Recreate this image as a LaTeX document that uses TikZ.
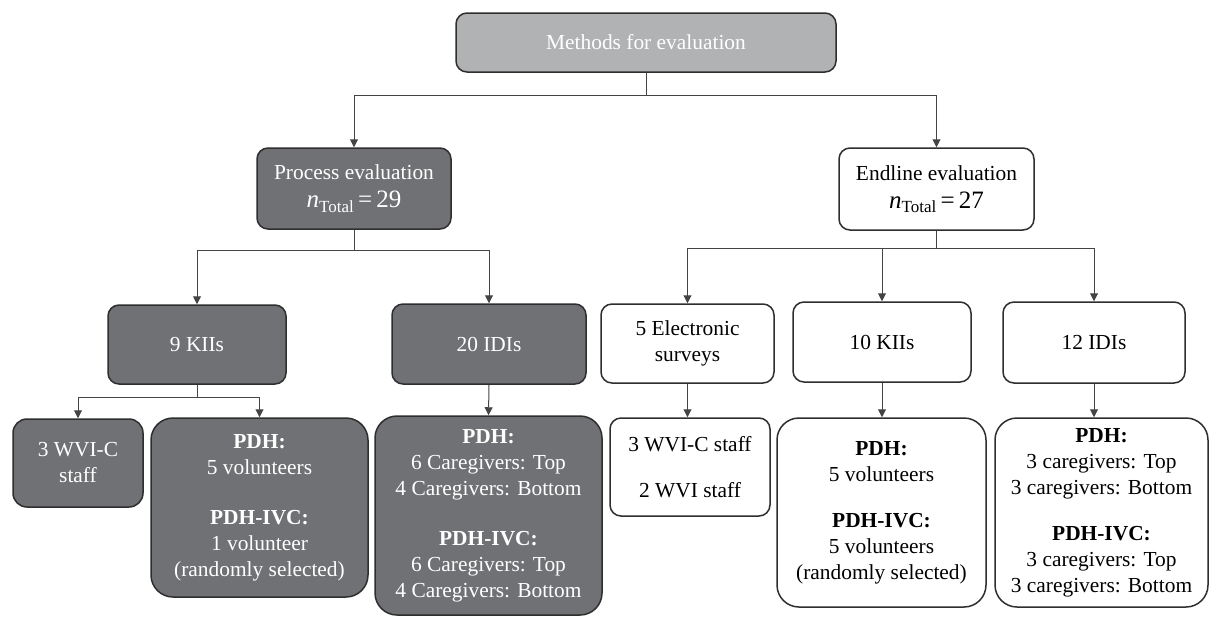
\documentclass[tikz,border=0pt]{standalone}
\usepackage{fontspec}
\setmainfont{Liberation Serif}
\usetikzlibrary{arrows.meta}
\definecolor{darkbox}{HTML}{707174}
\definecolor{lightbox}{HTML}{B1B2B4}
\definecolor{edgec}{HTML}{2E2E2E}
\definecolor{linec}{HTML}{444444}
\newcommand{\ntot}[1]{{\fontsize{12.5}{14}\selectfont\textit{n}\raisebox{-0.4ex}{\fontsize{8.5}{9}\selectfont Total}\,=\,#1}}
\tikzset{
  box/.style={draw=edgec, line width=0.75pt, rounded corners=5.5pt, inner sep=0pt,
    align=center, font=\fontsize{10.7}{13}\selectfont},
  dark/.style={box, fill=darkbox, text=white},
  lite/.style={box, fill=white, text=black},
  topbox/.style={box, fill=lightbox, text=white},
  conn/.style={draw=linec, line width=0.5pt},
  arr/.style={conn, -{Triangle[width=4pt,length=4pt]}},
  big/.style={rounded corners=11pt}
}
\begin{document}
\begin{tikzpicture}[x=0.5pt, y=-0.5pt]
\useasboundingbox (0,0) rectangle (1211,617);
% level 0
\node[topbox, minimum width={380*0.5pt}, minimum height={59*0.5pt}] (top) at (646,42.5) {Methods for evaluation};
% level 1
\node[dark, minimum width={194*0.5pt}, minimum height={81*0.5pt}] (proc) at (354,188.5) {Process evaluation\\[1pt]\ntot{29}};
\node[lite, minimum width={195*0.5pt}, minimum height={82*0.5pt}] (endl) at (936.5,189) {Endline evaluation\\[1pt]\ntot{27}};
% level 2
\node[dark, minimum width={178*0.5pt}, minimum height={79*0.5pt}] (kii) at (197,344.5) {9 KIIs};
\node[dark, minimum width={194*0.5pt}, minimum height={80*0.5pt}] (idi) at (489,344) {20 IDIs};
\node[lite, minimum width={173*0.5pt}, minimum height={79*0.5pt}] (elec) at (687.5,343.5) {5 Electronic\\surveys};
\node[lite, minimum width={178*0.5pt}, minimum height={80*0.5pt}] (kiib) at (882,342) {10 KIIs};
\node[lite, minimum width={182*0.5pt}, minimum height={81*0.5pt}] (idib) at (1094,342.5) {12 IDIs};
% level 3
\node[dark, rounded corners=7pt, minimum width={130*0.5pt}, minimum height={88*0.5pt}] (wvic) at (78,463) {3 WVI-C\\staff};
\node[dark, big, minimum width={217*0.5pt}, minimum height={179*0.5pt}] (pdha) at (259.5,507.5)
  {\textbf{PDH:}\\5 volunteers\\[12pt]\textbf{PDH-IVC:}\\1 volunteer\\(randomly selected)};
\node[dark, big, minimum width={227*0.5pt}, minimum height={199*0.5pt}] (pdhb) at (488.5,515.5)
  {\textbf{PDH:}\\6 Caregivers: Top\\4 Caregivers: Bottom\\[12pt]\textbf{PDH-IVC:}\\6 Caregivers: Top\\4 Caregivers: Bottom};
\node[lite, minimum width={160*0.5pt}, minimum height={98*0.5pt}] (staff) at (690,467) {3 WVI-C staff\\[10pt]2 WVI staff};
\node[lite, big, minimum width={209*0.5pt}, minimum height={189*0.5pt}] (pdhc) at (881.5,512.5)
  {\textbf{PDH:}\\5 volunteers\\[10pt]\textbf{PDH-IVC:}\\5 volunteers\\(randomly selected)};
\node[lite, big, minimum width={213*0.5pt}, minimum height={189*0.5pt}] (pdhd) at (1101.5,512.5)
  {\textbf{PDH:}\\3 caregivers: Top\\3 caregivers: Bottom\\[10pt]\textbf{PDH-IVC:}\\3 caregivers: Top\\3 caregivers: Bottom};
% connectors
\draw[arr] (top.south) -- ++(0,23) -| (proc.north);
\draw[arr] (top.south) -- ++(0,23) -| (endl.north);
\draw[arr] (proc.south) -- ++(0,21) -| (kii.north);
\draw[arr] (proc.south) -- ++(0,21) -| (idi.north);
\draw[arr] (endl.south) -- ++(0,18) -| (elec.north);
\draw[arr] (endl.south) -- ++(0,18) -| (kiib.north);
\draw[arr] (endl.south) -- ++(0,18) -| (idib.north);
\draw[arr] (kii.south) -- ++(0,13) -| (wvic.north);
\draw[arr] (kii.south) -- ++(0,13) -| (pdha.north);
\draw[arr] (idi.south) -- (pdhb.north);
\draw[arr] (elec.south) -- (elec.south |- staff.north);
\draw[arr] (kiib.south) -- (kiib.south |- pdhc.north);
\draw[arr] (idib.south) -- (idib.south |- pdhd.north);
\end{tikzpicture}
\end{document}
